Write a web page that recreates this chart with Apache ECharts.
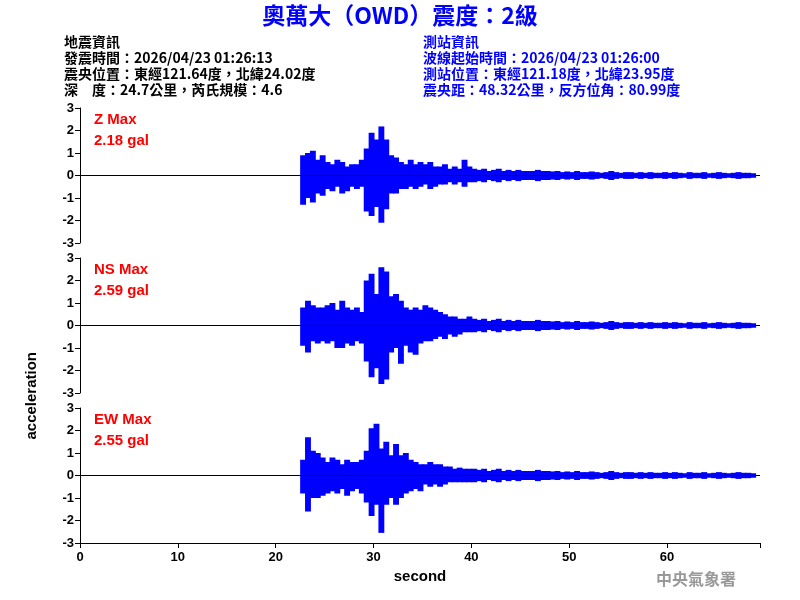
<!DOCTYPE html>
<html>
<head>
<meta charset="utf-8" />
<title>OWD</title>
<script src="https://cdn.jsdelivr.net/npm/echarts@6/dist/echarts.min.js"></script>
<style>body{margin:0}#main{width:800px;height:600px;background:#fff}</style>
</head>
<body>
<div id="main"></div>
<script>
// envelope peaks read every 0.5 s, starting at t0 (seconds)
var t0 = 22.5;
var step = 0.5;
var tail = [0.3,0.25,0.3,0.2,0.25,0.3,0.2,0.25,0.2,0.25,0.2,0.2,0.2,0.25,0.2,0.2,
  0.18,0.2,0.15,0.18,0.15,0.2,0.15,0.15,0.18,0.15,0.12,0.15,0.2,0.15,0.12,0.15,0.15,0.12,0.15,0.12,0.15,0.12,0.12,0.15,
  0.12,0.15,0.12,0.1,0.15,0.12,0.12,0.15,0.1,0.12,0.15,0.12,0.1,0.12,0.15,0.12,0.12,0.1];
var zUp = [0.9,1.0,1.1,0.7,0.9, 0.6,0.5,0.7,0.6,0.4,0.5,0.5,0.7, 1.2,1.9,1.6,2.18,1.6,0.9,
  0.8,0.6,0.5,0.7,0.5,0.6,0.5,0.6, 0.4,0.4,0.5,0.3,0.4,0.3,0.7,0.4].concat(tail);
var zDown = [-1.3,-1.0,-1.2,-0.8,-0.9, -0.6,-0.7,-0.5,-0.8,-0.7,-0.5,-0.6,-0.5, -1.6,-1.8,-1.4,-2.1,-1.5,-0.8,
  -0.8,-0.6,-0.6,-0.5,-0.6,-0.5,-0.4,-0.6, -0.5,-0.4,-0.4,-0.3,-0.4,-0.3,-0.5,-0.3].concat(tail.map(function(v){return -v;}));
var nsUp = [0.8,1.1,0.9,0.8,0.8, 0.9,1.0,0.7,1.1,0.8,0.7,0.8,0.6, 2.0,2.3,1.4,2.59,2.4,1.3,
  1.4,1.1,0.8,0.7,0.8,0.7,0.9,0.8, 0.7,0.6,0.5,0.4,0.4,0.3,0.3,0.4].concat(tail);
var nsDown = [-0.9,-1.2,-0.7,-0.8,-0.7, -0.8,-0.7,-1.0,-1.0,-0.8,-0.9,-0.7,-0.8, -1.6,-2.3,-1.9,-2.6,-2.4,-1.2,
  -1.0,-1.7,-0.9,-1.2,-1.3,-0.8,-0.7,-0.7, -0.6,-0.5,-0.6,-0.4,-0.5,-0.4,-0.3,-0.3].concat(tail.map(function(v){return -v;}));
var ewUp = [0.7,1.7,1.1,1.0,0.8, 0.6,0.8,0.7,0.5,0.7,0.6,0.6,0.7, 1.1,2.1,2.3,1.2,1.5,0.9,
  1.4,0.9,1.0,0.7,0.6,0.5,0.5,0.6, 0.5,0.5,0.4,0.4,0.3,0.35,0.3,0.3].concat(tail);
var ewDown = [-0.8,-1.6,-1.0,-1.0,-0.9, -0.8,-0.7,-0.8,-0.6,-0.9,-0.7,-0.6,-0.8, -1.2,-1.8,-1.3,-2.55,-1.3,-1.0,
  -1.3,-1.0,-0.8,-0.7,-0.6,-0.7,-0.4,-0.5, -0.4,-0.5,-0.4,-0.3,-0.3,-0.3,-0.3,-0.3].concat(tail.map(function(v){return -v;}));

var panels = [
  { name: 'Z Max', max: '2.18 gal', up: zUp, down: zDown, top: 108 },
  { name: 'NS Max', max: '2.59 gal', up: nsUp, down: nsDown, top: 258 },
  { name: 'EW Max', max: '2.55 gal', up: ewUp, down: ewDown, top: 408 }
];

function envelope(up, down) {
  return up.map(function (u, i) { return [t0 + i * step, u, down[i]]; });
}

function renderBlock(params, api) {
  var t = api.value(0);
  var a = api.coord([t, api.value(1)]);
  var b = api.coord([t + step, api.value(2)]);
  var shape = { x: a[0], y: a[1], width: b[0] - a[0] + 1, height: b[1] - a[1] };
  return { type: 'rect', shape: shape, style: { fill: '#0000ff' } };
}

var FONT = '"Noto Sans CJK TC", sans-serif';
var grids = [], xAxes = [], yAxes = [], series = [], graphics = [];
panels.forEach(function (p, k) {
  var last = k === 2;
  grids.push({ left: 80, width: 680, top: p.top, height: 135 });
  xAxes.push({
    gridIndex: k, type: 'value', min: 0, max: 69.5, interval: 10,
    axisLine: { show: last, onZero: false, lineStyle: { color: '#000' } },
    axisTick: { show: last, lineStyle: { color: '#000' } },
    axisLabel: { show: last, color: '#000', fontSize: 13, fontFamily: 'Arial', fontWeight: 'bold',
      formatter: function (v) { return v % 10 === 0 && v < 69 ? v : ''; } },
    splitLine: { show: false },
    name: last ? 'second' : '', nameLocation: 'middle', nameGap: 26,
    nameTextStyle: { color: '#000', fontSize: 15, fontWeight: 'bold', fontFamily: 'Arial' }
  });
  yAxes.push({
    gridIndex: k, type: 'value', min: -3, max: 3, interval: 1,
    axisLine: { show: true, lineStyle: { color: '#000' } },
    axisTick: { show: true, lineStyle: { color: '#000' } },
    axisLabel: { color: '#000', fontSize: 13, fontFamily: 'Arial', fontWeight: 'bold', margin: 6 },
    splitLine: { show: false }
  });
  series.push({
    type: 'line', xAxisIndex: k, yAxisIndex: k, data: [[0, 0], [69.5, 0]],
    symbol: 'none', silent: true, lineStyle: { color: '#000', width: 1 }
  });
  series.push({
    type: 'custom', xAxisIndex: k, yAxisIndex: k, data: envelope(p.up, p.down),
    renderItem: renderBlock, silent: true, encode: { x: 0, y: [1, 2] }
  });
  graphics.push({ type: 'text', left: 94, top: p.top + 1,
    style: { text: p.name + '\n' + p.max, fill: '#ff0000', font: 'bold 15px Arial', lineHeight: 21 } });
});

graphics.push({ type: 'text', left: 'center', top: 4,
  style: { text: '奧萬大（OWD）震度：2級', fill: '#0000ff', font: 'bold 23px ' + FONT } });
graphics.push({ type: 'text', left: 64, top: 34,
  style: { text: '地震資訊\n發震時間：2026/04/23 01:26:13\n震央位置：東經121.64度，北緯24.02度\n深　度：24.7公里，芮氏規模：4.6',
    fill: '#000', font: 'bold 14px ' + FONT, lineHeight: 16 } });
graphics.push({ type: 'text', left: 423, top: 34,
  style: { text: '測站資訊\n波線起始時間：2026/04/23 01:26:00\n測站位置：東經121.18度，北緯23.95度\n震央距：48.32公里，反方位角：80.99度',
    fill: '#0000ff', font: 'bold 14px ' + FONT, lineHeight: 16 } });
graphics.push({ type: 'text', left: 24, top: 352, rotation: Math.PI / 2,
  style: { text: 'acceleration', fill: '#000', font: 'bold 15px Arial' } });
graphics.push({ type: 'text', left: 656, top: 571,
  style: { text: '中央氣象署', fill: '#999', font: 'bold 16px ' + FONT } });

var chart = echarts.init(document.getElementById('main'));
chart.setOption({
  animation: false,
  backgroundColor: '#fff',
  grid: grids, xAxis: xAxes, yAxis: yAxes, series: series, graphic: graphics
});
</script>
</body>
</html>
